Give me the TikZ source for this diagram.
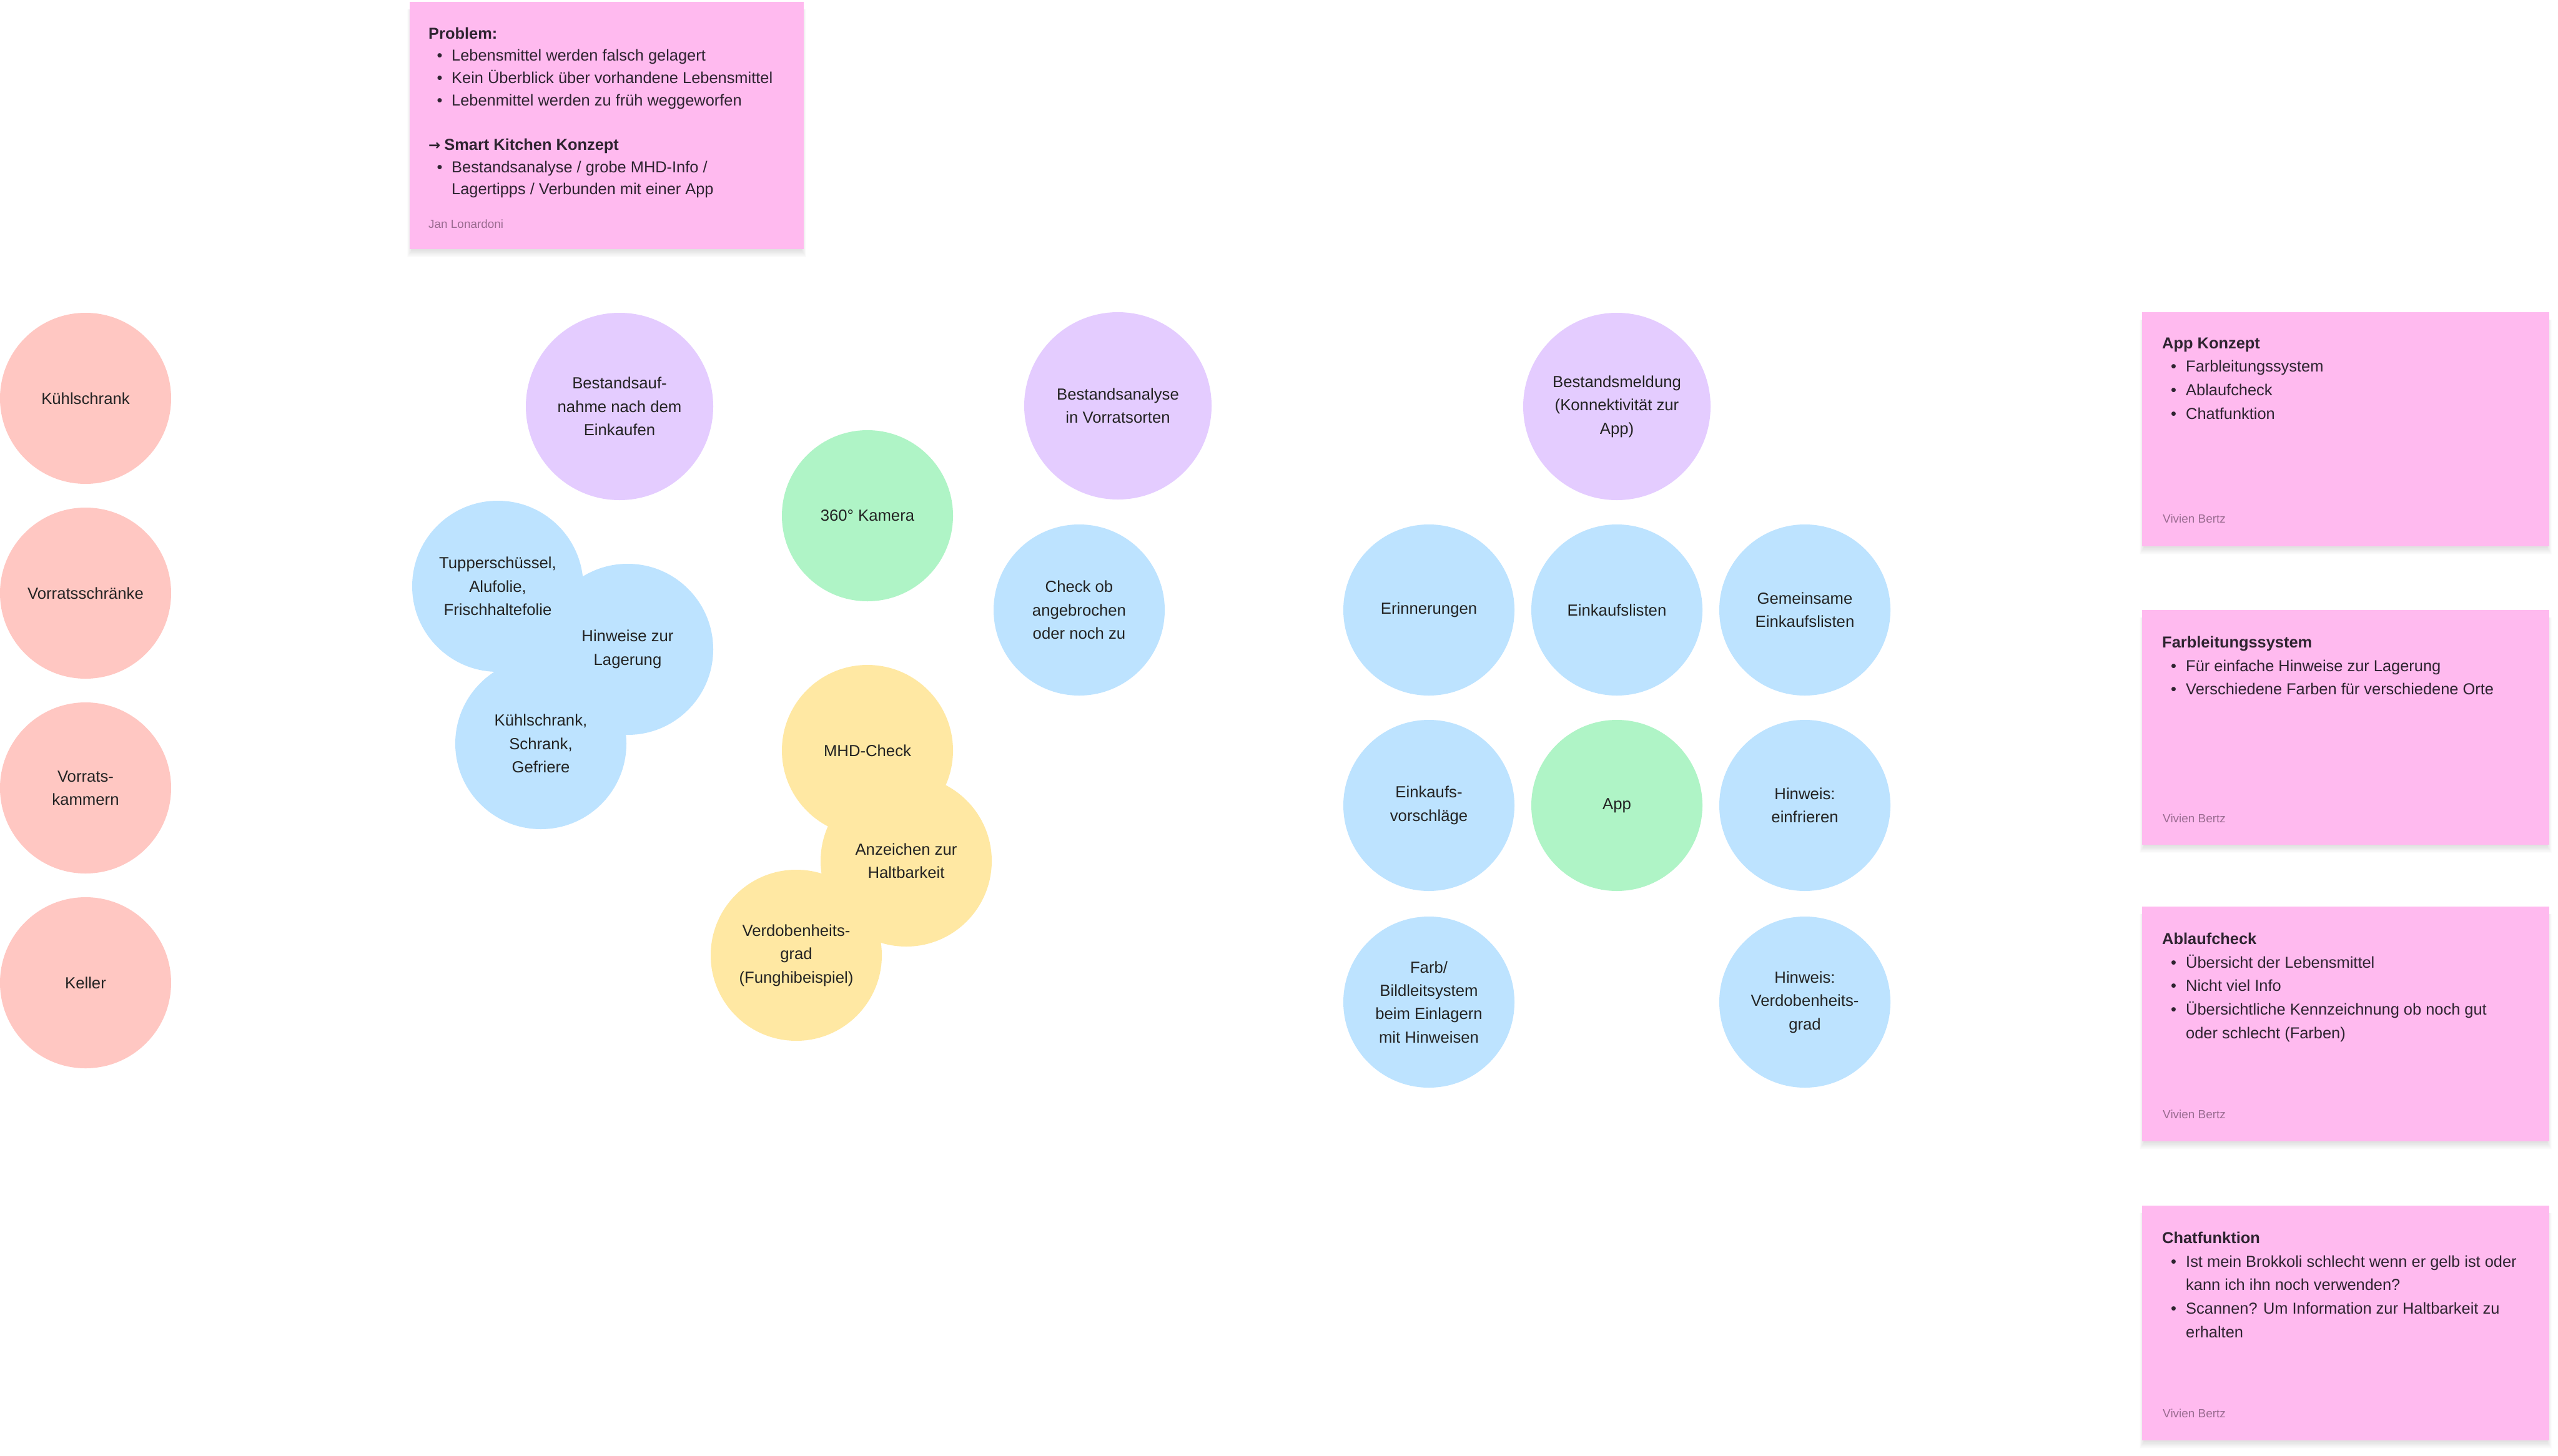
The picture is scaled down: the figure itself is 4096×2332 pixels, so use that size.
\documentclass[tikz,border=0pt]{standalone}
\usepackage{fontspec}
\setmainfont{Liberation Sans}
\newfontfamily\arrowfont{DejaVu Sans}
\definecolor{cRed}{HTML}{FFC7C2}
\definecolor{cPurple}{HTML}{E4CCFF}
\definecolor{cBlue}{HTML}{BDE3FF}
\definecolor{cGreen}{HTML}{AFF4C6}
\definecolor{cYellow}{HTML}{FFE8A3}
\definecolor{cNote}{HTML}{FFBAEF}
\definecolor{cText}{HTML}{232323}
\definecolor{cNoteText}{HTML}{2E2430}
\definecolor{cAuthor}{RGB}{155,108,145}
\newcommand{\myNoteShadow}[4]{%
  \foreach \i in {1,...,10}{%
    \fill[black, opacity=0.011] (#1+4-\i*0.8, #2+12) rectangle (#3-4+\i*0.8, #4+1+\i*1.2);
  }}
\begin{document}
\begin{tikzpicture}[x=1bp,y=-1bp,
  bubble/.style={circle, inner sep=0pt, minimum size=274bp, draw=none},
  bigbubble/.style={bubble, minimum size=300bp},
  btext/.style={inner sep=0pt, align=center, text=cText, font=\fontsize{25.8}{37.5}\selectfont},
  note/.style={fill=cNote, anchor=north west, inner sep=0pt},
  notetext/.style={anchor=north west, inner sep=0pt, align=left, text=cNoteText, font=\fontsize{25.5}{37.8}\selectfont},
  author/.style={anchor=west, inner sep=0pt, text=cAuthor, font=\fontsize{19}{22}\selectfont},
]
\path[use as bounding box, fill=white] (0,0) rectangle (4096,2332);

% ---- sticky note shadows ----
\myNoteShadow{656}{3}{1287}{399}
\myNoteShadow{3430}{500}{4082}{875}
\myNoteShadow{3430}{977}{4082}{1353}
\myNoteShadow{3430}{1452}{4082}{1828}
\myNoteShadow{3430}{1931}{4082}{2307}

% ---- sticky notes ----
\node[note, minimum width=631bp, minimum height=396bp] (problem) at (656,3) {};
\node[note, minimum width=652bp, minimum height=375bp] (appk) at (3430,500) {};
\node[note, minimum width=652bp, minimum height=376bp] (farbl) at (3430,977) {};
\node[note, minimum width=652bp, minimum height=376bp] (ablauf) at (3430,1452) {};
\node[note, minimum width=652bp, minimum height=376bp] (chat) at (3430,1931) {};

\node[notetext, font=\fontsize{25.5}{35.8}\selectfont] (problem-t) at (686,43.5) {\textbf{Problem:}\\
\hspace*{13.5bp}\makebox[23.5bp][l]{•}Lebensmittel werden falsch gelagert\\
\hspace*{13.5bp}\makebox[23.5bp][l]{•}Kein Überblick über vorhandene Lebensmittel\\
\hspace*{13.5bp}\makebox[23.5bp][l]{•}Lebenmittel werden zu früh weggeworfen\\[35.8bp]
\textbf{{\arrowfont\fontsize{23}{35.8}\selectfont →}\hspace{6bp}Smart Kitchen Konzept}\\
\hspace*{13.5bp}\makebox[23.5bp][l]{•}Bestandsanalyse / grobe MHD-Info /\\
\hspace*{37bp}Lagertipps / Verbunden mit einer App};
\node[author] (problem-a) at (686,358.6) {Jan Lonardoni};

\node[notetext] (appk-t) at (3462,540.5) {\textbf{App Konzept}\\
\hspace*{14bp}\makebox[24bp][l]{•}Farbleitungssystem\\
\hspace*{14bp}\makebox[24bp][l]{•}Ablaufcheck\\
\hspace*{14bp}\makebox[24bp][l]{•}Chatfunktion};
\node[author] (appk-a) at (3463,831) {Vivien Bertz};

\node[notetext] (farbl-t) at (3462,1019) {\textbf{Farbleitungssystem}\\
\hspace*{14bp}\makebox[24bp][l]{•}Für einfache Hinweise zur Lagerung\\
\hspace*{14bp}\makebox[24bp][l]{•}Verschiedene Farben für verschiedene Orte};
\node[author] (farbl-a) at (3463,1311) {Vivien Bertz};

\node[notetext] (ablauf-t) at (3462,1494) {\textbf{Ablaufcheck}\\
\hspace*{14bp}\makebox[24bp][l]{•}Übersicht der Lebensmittel\\
\hspace*{14bp}\makebox[24bp][l]{•}Nicht viel Info\\
\hspace*{14bp}\makebox[24bp][l]{•}Übersichtliche Kennzeichnung ob noch gut\\
\hspace*{38bp}oder schlecht (Farben)};
\node[author] (ablauf-a) at (3463,1785) {Vivien Bertz};

\node[notetext] (chat-t) at (3462,1973) {\textbf{Chatfunktion}\\
\hspace*{14bp}\makebox[24bp][l]{•}Ist mein Brokkoli schlecht wenn er gelb ist oder\\
\hspace*{38bp}kann ich ihn noch verwenden?\\
\hspace*{14bp}\makebox[24bp][l]{•}Scannen? Um Information zur Haltbarkeit zu\\
\hspace*{38bp}erhalten};
\node[author] (chat-a) at (3463,2264) {Vivien Bertz};

% ---- circles (fills) ----
\node[bubble, fill=cRed] (kuehl) at (137,638) {};
\node[bubble, fill=cRed] (vschr) at (137,950) {};
\node[bubble, fill=cRed] (vkam) at (137,1262) {};
\node[bubble, fill=cRed] (keller) at (137,1574) {};

\node[bigbubble, fill=cPurple] (bauf) at (992,651) {};
\node[bigbubble, fill=cPurple] (banal) at (1790,650) {};
\node[bigbubble, fill=cPurple] (bmeld) at (2589,651) {};

\node[bubble, fill=cBlue] (tupper) at (797,939) {};
\node[bubble, fill=cBlue] (hinw) at (1005,1040) {};
\node[bubble, fill=cBlue] (ksg) at (866,1191) {};
\node[bubble, fill=cBlue] (check) at (1728,977) {};

\node[bubble, fill=cGreen] (kamera) at (1389,826) {};

\node[bubble, fill=cYellow] (mhd) at (1389,1202) {};
\node[bubble, fill=cYellow] (anz) at (1451,1379) {};
\node[bubble, fill=cYellow] (verd) at (1275,1530) {};

\node[bubble, fill=cBlue] (erin) at (2288,977) {};
\node[bubble, fill=cBlue] (einkl) at (2589,977) {};
\node[bubble, fill=cBlue] (gemein) at (2890,977) {};
\node[bubble, fill=cBlue] (einkv) at (2288,1290) {};
\node[bubble, fill=cGreen] (app) at (2589,1290) {};
\node[bubble, fill=cBlue] (hinwe) at (2890,1290) {};
\node[bubble, fill=cBlue] (farb) at (2288,1605) {};
\node[bubble, fill=cBlue] (hinwv) at (2890,1605) {};

% ---- circle texts ----
\node[btext] (kuehl-t) at (kuehl.center) {Kühlschrank};
\node[btext] (vschr-t) at (vschr.center) {Vorratsschränke};
\node[btext] (vkam-t) at (vkam.center) {Vorrats-\\kammern};
\node[btext] (keller-t) at (keller.center) {Keller};
\node[btext] (bauf-t) at (bauf.center) {Bestandsauf-\\nahme nach dem\\Einkaufen};
\node[btext] (banal-t) at (banal.center) {Bestandsanalyse\\in Vorratsorten};
\node[btext] (bmeld-t) at (bmeld.center) {Bestandsmeldung\\(Konnektivität zur\\App)};
\node[btext] (tupper-t) at (tupper.center) {Tupperschüssel,\\Alufolie,\\Frischhaltefolie};
\node[btext] (hinw-t) at (hinw.center) {Hinweise zur\\Lagerung};
\node[btext] (ksg-t) at (ksg.center) {Kühlschrank,\\Schrank,\\Gefriere};
\node[btext] (check-t) at (check.center) {Check ob\\angebrochen\\oder noch zu};
\node[btext] (kamera-t) at (kamera.center) {360° Kamera};
\node[btext] (mhd-t) at (mhd.center) {MHD-Check};
\node[btext] (anz-t) at (anz.center) {Anzeichen zur\\Haltbarkeit};
\node[btext] (verd-t) at (verd.center) {Verdobenheits-\\grad\\(Funghibeispiel)};
\node[btext] (erin-t) at (erin.center) {Erinnerungen};
\node[btext] (einkl-t) at (einkl.center) {Einkaufslisten};
\node[btext] (gemein-t) at (gemein.center) {Gemeinsame\\Einkaufslisten};
\node[btext] (einkv-t) at (einkv.center) {Einkaufs-\\vorschläge};
\node[btext] (app-t) at (app.center) {App};
\node[btext] (hinwe-t) at (hinwe.center) {Hinweis:\\einfrieren};
\node[btext] (farb-t) at (farb.center) {Farb/\\Bildleitsystem\\beim Einlagern\\mit Hinweisen};
\node[btext] (hinwv-t) at (hinwv.center) {Hinweis:\\Verdobenheits-\\grad};
\end{tikzpicture}
\end{document}
